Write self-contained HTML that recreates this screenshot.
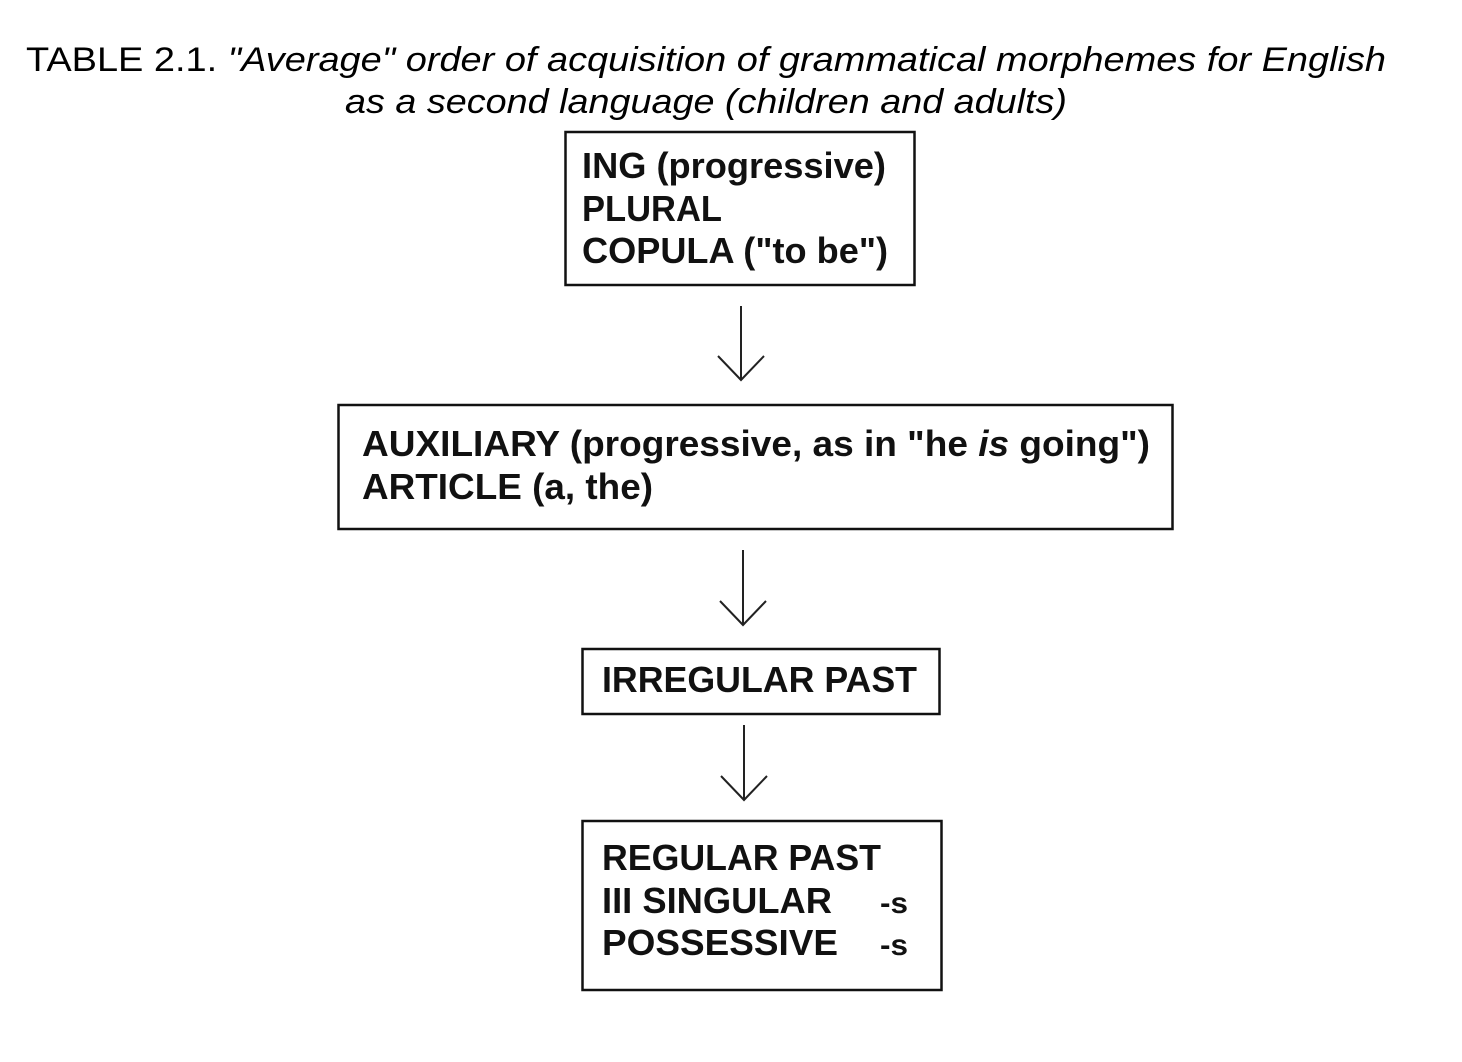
<!DOCTYPE html>
<html><head><meta charset="utf-8"><style>
html,body{margin:0;padding:0;background:#fff;}
svg{display:block;}
</style></head><body>
<svg width="1462" height="1062" viewBox="0 0 1462 1062" xmlns="http://www.w3.org/2000/svg">
<rect width="1462" height="1062" fill="#fff"/>
<g font-family="Liberation Sans, Arial, sans-serif" font-size="34" fill="#000">
<text x="26" y="71" textLength="1360" lengthAdjust="spacingAndGlyphs">TABLE 2.1. <tspan font-style="italic">"Average" order of acquisition of grammatical morphemes for English</tspan></text>
<text x="345" y="113" font-style="italic" textLength="722" lengthAdjust="spacingAndGlyphs">as a second language (children and adults)</text>
</g>
<g fill="none" stroke="#111" stroke-width="2.5">
<rect x="565.5" y="132" width="349" height="153"/>
<rect x="338.5" y="405" width="834" height="124"/>
<rect x="582.5" y="649" width="357" height="65"/>
<rect x="582.5" y="821" width="359" height="169"/>
</g>
<g fill="none" stroke="#222" stroke-width="2">
<path d="M741 306V380M718 356L741 380L764 356"/>
<path d="M743 550V625M720 601L743 625L766 601"/>
<path d="M744 725V800M721 776L744 800L767 776"/>
</g>
<g font-family="Liberation Sans, Arial, sans-serif" font-size="36" font-weight="bold" fill="#111">
<text x="582" y="178" textLength="304" lengthAdjust="spacingAndGlyphs">ING (progressive)</text>
<text x="582" y="221" textLength="140" lengthAdjust="spacingAndGlyphs">PLURAL</text>
<text x="582" y="263" textLength="306" lengthAdjust="spacingAndGlyphs">COPULA ("to be")</text>
<text x="362" y="456" textLength="788" lengthAdjust="spacingAndGlyphs">AUXILIARY (progressive, as in "he <tspan font-style="italic">is</tspan> going")</text>
<text x="362" y="499" textLength="291" lengthAdjust="spacingAndGlyphs">ARTICLE (a, the)</text>
<text x="602" y="692" textLength="315" lengthAdjust="spacingAndGlyphs">IRREGULAR PAST</text>
<text x="602" y="870" textLength="279" lengthAdjust="spacingAndGlyphs">REGULAR PAST</text>
<text x="602" y="913" textLength="230" lengthAdjust="spacingAndGlyphs">III SINGULAR</text>
<text x="602" y="955" textLength="236" lengthAdjust="spacingAndGlyphs">POSSESSIVE</text>
<text x="880" y="913" font-size="30" textLength="28" lengthAdjust="spacingAndGlyphs">-s</text>
<text x="880" y="955" font-size="30" textLength="28" lengthAdjust="spacingAndGlyphs">-s</text>
</g>
</svg>
</body></html>
